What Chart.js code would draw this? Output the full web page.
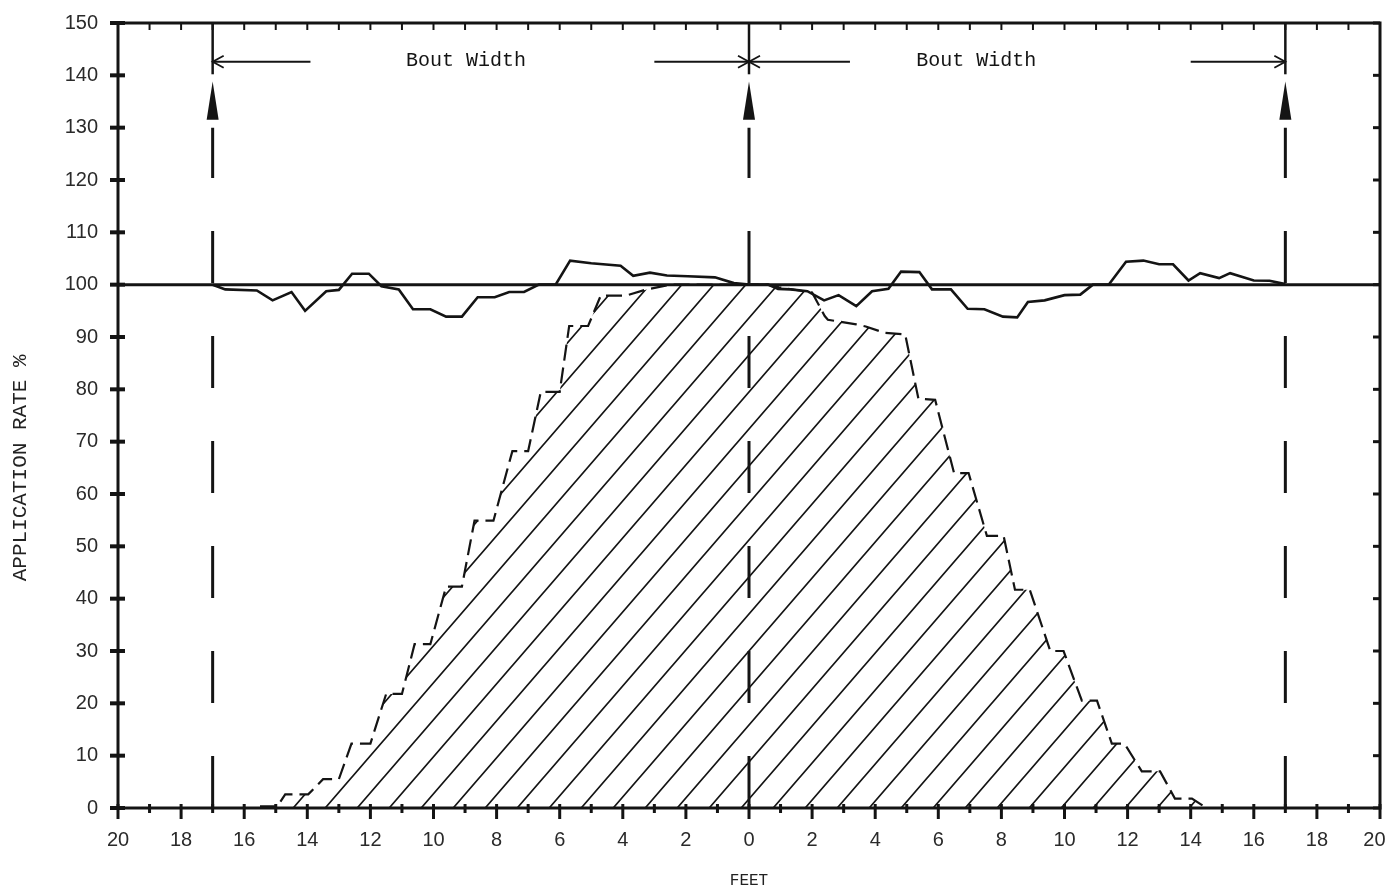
<!DOCTYPE html>
<html><head><meta charset="utf-8">
<script src="https://cdn.jsdelivr.net/npm/chart.js@4.4.1/dist/chart.umd.min.js"></script>
<style>html,body{margin:0;padding:0;background:#fff;}#wrap{width:1388px;height:890px;}</style>
</head><body><div id="wrap"><canvas id="c" width="1388" height="890"></canvas></div>
<script>
// ---- data (feet from centre of flight path, application rate %) ----
const combinedFeet = [-17, -16.6, -15.6, -15.1, -14.5, -14.07, -13.4, -13.0, -12.58, -12.05, -11.65, -11.1, -10.65, -10.1, -9.6, -9.1, -8.6, -8.06, -7.6, -7.13, -6.66, -6.13, -5.67, -5.0, -4.07, -3.67, -3.14, -2.6, -1.94, -1.08, -0.48, 0,
  0.6, 0.92, 1.32, 1.85, 2.38, 2.84, 3.4, 3.9, 4.42, 4.82, 5.4, 5.8, 6.4, 6.93, 7.46, 8.05, 8.5, 8.84, 9.37, 10.0, 10.5, 10.9, 11.4, 11.95, 12.5, 13.0, 13.44, 13.93, 14.3, 14.9, 15.25, 16.0, 16.5, 17.0];
const combinedRate = [100, 99.1, 98.9, 97, 98.6, 95, 98.75, 99, 102.1, 102.1, 99.7, 99.1, 95.3, 95.3, 93.9, 93.9, 97.6, 97.6, 98.6, 98.6, 100, 100, 104.6, 104.1, 103.6, 101.7, 102.3, 101.75, 101.6, 101.4, 100.3, 100,
  100, 99.2, 99.1, 98.75, 97, 98, 95.9, 98.75, 99.2, 102.5, 102.4, 99.1, 99.1, 95.4, 95.3, 93.9, 93.75, 96.7, 97, 98, 98.1, 100, 100, 104.4, 104.6, 103.9, 103.9, 100.8, 102.2, 101.25, 102.2, 100.8, 100.75, 100.1];
const singleFeet = [-15.5, -14.95, -14.7, -13.97, -13.5, -13.0, -12.6, -12.0, -11.5, -11.0, -10.6, -10.1, -9.6, -9.1, -8.7, -8.1, -7.5, -7.0, -6.6, -6.0, -5.7, -5.1, -4.7, -3.9, -3.3, -2.5, 0.6, 0.95, 2.0, 2.4,
  2.5, 3.4, 3.7, 4.3, 4.95, 5.37, 5.9, 6.5, 6.96, 7.54, 8.07, 8.43, 8.9, 9.55, 9.97, 10.55, 11.03, 11.5, 11.9, 12.45, 13.03, 13.5, 14.04, 14.5];
const singleRate = [0.3, 0.3, 2.6, 2.6, 5.5, 5.5, 12.3, 12.3, 21.8, 21.8, 31.3, 31.3, 42.3, 42.3, 54.9, 54.9, 68.2, 68.2, 79.5, 79.5, 92.1, 92.1, 97.9, 97.9, 99, 100, 100, 99.5, 98.5, 94,
  93.3, 92.4, 92, 90.8, 90.5, 78.2, 78.0, 64, 64, 52, 52, 41.7, 41.7, 30, 30, 20.5, 20.5, 12.3, 12.3, 7, 7, 1.8, 1.8, 0];
const targetFeet = [-20, 20];
const targetRate = [100, 100];
const swathEdges = [-17, 0, 17];
const boutLabel = 'Bout Width';
const yTitle = 'APPLICATION RATE %';
const xTitle = 'FEET';
const xTickValues = [-20, -18, -16, -14, -12, -10, -8, -6, -4, -2, 0, 2, 4, 6, 8, 10, 12, 14, 16, 18, 20];
const yTickValues = [0, 10, 20, 30, 40, 50, 60, 70, 80, 90, 100, 110, 120, 130, 140, 150];

const toPts = (xs, ys) => xs.map((v, i) => ({x: v, y: ys[i]}));
const INK = '#141414';

function makeHatch() {
  const w = 32, h = 37, c = document.createElement('canvas');
  c.width = w; c.height = h;
  const g = c.getContext('2d');
  g.strokeStyle = INK; g.lineWidth = 1.7;
  g.beginPath();
  g.moveTo(-w, h); g.lineTo(w, -h);
  g.moveTo(0, h); g.lineTo(w, 0);
  g.moveTo(0, 2 * h); g.lineTo(2 * w, 0);
  g.stroke();
  return g.createPattern(c, 'repeat');
}

const annot = {
  id: 'annot',
  afterDraw(chart) {
    const {ctx, chartArea: a, scales: {x, y}} = chart;
    ctx.save();
    ctx.strokeStyle = INK; ctx.fillStyle = INK; ctx.lineCap = 'butt';
    // frame
    ctx.lineWidth = 3;
    ctx.strokeRect(a.left, a.top, a.right - a.left, a.bottom - a.top);
    // bottom & top ticks
    for (let f = -20; f <= 20; f++) {
      const px = x.getPixelForValue(f);
      const major = f % 2 === 0;
      ctx.lineWidth = 3;
      ctx.beginPath(); ctx.moveTo(px, a.bottom - 4); ctx.lineTo(px, a.bottom + (major ? 11 : 5)); ctx.stroke();
      ctx.lineWidth = 2;
      ctx.beginPath(); ctx.moveTo(px, a.top); ctx.lineTo(px, a.top + 7); ctx.stroke();
    }
    // left & right ticks
    for (const v of yTickValues) {
      const py = y.getPixelForValue(v);
      ctx.lineWidth = 4;
      ctx.beginPath(); ctx.moveTo(a.left - 8, py); ctx.lineTo(a.left + 7, py); ctx.stroke();
      ctx.lineWidth = 3;
      ctx.beginPath(); ctx.moveTo(a.right, py); ctx.lineTo(a.right - 7, py); ctx.stroke();
    }
    // swath edge markers
    for (const f of swathEdges) {
      const px = x.getPixelForValue(f);
      ctx.setLineDash([]);
      ctx.lineWidth = 2.5;
      ctx.beginPath(); ctx.moveTo(px, a.top); ctx.lineTo(px, y.getPixelForValue(140.2)); ctx.stroke();
      ctx.beginPath();
      ctx.moveTo(px, y.getPixelForValue(138.8));
      ctx.lineTo(px - 6, y.getPixelForValue(131.5));
      ctx.lineTo(px + 6, y.getPixelForValue(131.5));
      ctx.closePath(); ctx.fill();
      ctx.setLineDash([52, 53]);
      ctx.lineWidth = 3;
      ctx.beginPath(); ctx.moveTo(px, a.bottom); ctx.lineTo(px, y.getPixelForValue(130)); ctx.stroke();
    }
    ctx.setLineDash([]);
    // bout width arrows
    const ay = y.getPixelForValue(142.6);
    const seg = (f1, f2) => { ctx.beginPath(); ctx.moveTo(x.getPixelForValue(f1), ay); ctx.lineTo(x.getPixelForValue(f2), ay); ctx.stroke(); };
    const head = (f, dir) => { const px = x.getPixelForValue(f); ctx.beginPath(); ctx.moveTo(px - dir * 11, ay - 6); ctx.lineTo(px, ay); ctx.lineTo(px - dir * 11, ay + 6); ctx.stroke(); };
    ctx.lineWidth = 1.8;
    seg(-17, -13.9); head(-17, -1);
    seg(-3.0, 0); head(0, 1);
    seg(0, 3.2); head(0, -1);
    seg(14.0, 17); head(17, 1);
    ctx.font = '20px "Liberation Mono"';
    ctx.textAlign = 'center'; ctx.textBaseline = 'middle';
    ctx.fillText(boutLabel, x.getPixelForValue(-8.97), ay - 1);
    ctx.fillText(boutLabel, x.getPixelForValue(7.2), ay - 1);
    // y-axis title (placed as in the original, below the plot's centre)
    ctx.fillStyle = '#222';
    ctx.font = '21px "Liberation Mono"';
    ctx.translate(20, y.getPixelForValue(65));
    ctx.rotate(-Math.PI / 2);
    ctx.fillText(yTitle, 0, 0);
    ctx.restore();
  }
};

const chart = new Chart(document.getElementById('c'), {
  type: 'scatter',
  data: {
    datasets: [
      {label: 'Single swath', data: toPts(singleFeet, singleRate), showLine: true, borderColor: INK, borderWidth: 2.2,
        borderDash: [16, 7], pointRadius: 0, fill: 'origin', backgroundColor: makeHatch(), tension: 0, order: 3},
      {label: 'Combined', data: toPts(combinedFeet, combinedRate), showLine: true, borderColor: INK, borderWidth: 2.6,
        pointRadius: 0, fill: false, tension: 0, order: 2},
      {label: 'Target', data: toPts(targetFeet, targetRate), showLine: true, borderColor: INK, borderWidth: 3,
        pointRadius: 0, fill: false, order: 1}
    ]
  },
  options: {
    responsive: false, animation: false, devicePixelRatio: 1,
    layout: {padding: {left: 0, right: 8, top: 23, bottom: 0}},
    plugins: {legend: {display: false}, tooltip: {enabled: false}},
    scales: {
      x: {
        type: 'linear', min: -20, max: 20,
        afterBuildTicks: s => { s.ticks = xTickValues.map(v => ({value: v})); },
        ticks: {callback: v => (v === 20 ? '20  ' : String(Math.abs(v))), font: {family: 'Liberation Sans', size: 20}, color: '#2a2a2a', padding: 20, maxRotation: 0, autoSkip: false},
        grid: {display: false, drawTicks: false}, border: {display: false},
        title: {display: true, text: xTitle, font: {family: 'Liberation Mono', size: 16}, color: '#222', padding: {top: 0, bottom: 0}},
        afterFit: s => { s.height = 82; s.paddingLeft = 0; s.paddingRight = 0; }
      },
      y: {
        type: 'linear', min: 0, max: 150,
        afterBuildTicks: s => { s.ticks = yTickValues.map(v => ({value: v})); },
        ticks: {font: {family: 'Liberation Sans', size: 20}, color: '#2a2a2a', padding: 20, autoSkip: false},
        grid: {display: false, drawTicks: false}, border: {display: false},
        title: {display: false},
        afterFit: s => { s.width = 118; s.paddingTop = 0; s.paddingBottom = 0; }
      }
    }
  },
  plugins: [annot]
});
</script></body></html>
